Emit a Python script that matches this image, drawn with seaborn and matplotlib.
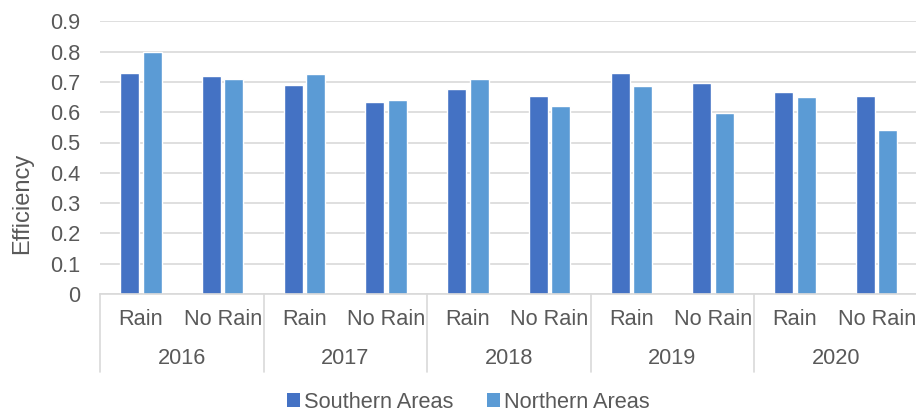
import matplotlib
matplotlib.use("Agg")
import matplotlib.pyplot as plt
import matplotlib.transforms as mtransforms
from matplotlib.patches import Patch
import seaborn as sns
import pandas as pd

# Data
years = ["2016", "2017", "2018", "2019", "2020"]
conditions = ["Rain", "No Rain"]
series_names = ["Southern Areas", "Northern Areas"]
southern = [0.73, 0.72, 0.69, 0.634, 0.677, 0.653, 0.729, 0.696, 0.667, 0.653]
northern = [0.80, 0.71, 0.726, 0.64, 0.71, 0.62, 0.687, 0.597, 0.65, 0.541]
y_ticks = [0, 0.1, 0.2, 0.3, 0.4, 0.5, 0.6, 0.7, 0.8, 0.9]
colors = ["#4472C4", "#5B9BD5"]

sns.set_style("white")
plt.rcParams["font.family"] = ["Liberation Sans", "DejaVu Sans"]
text_color = "#595959"
grid_color = "#D9D9D9"
fs = 15.7

categories = [f"{y}|{c}" for y in years for c in conditions]
df = pd.DataFrame({
    "category": categories * 2,
    "value": southern + northern,
    "series": [series_names[0]] * len(categories) + [series_names[1]] * len(categories),
})

fig = plt.figure(figsize=(9.16, 4.13), dpi=100)
ax = fig.add_axes([100 / 916, 119 / 413, 817.5 / 916, 272.7 / 413])

sns.barplot(data=df, x="category", y="value", hue="series", order=categories,
            hue_order=series_names, palette=colors, width=0.55, gap=0.15,
            saturation=1, ax=ax, legend=False)

ax.set_xlim(-0.5, len(categories) - 0.5)
ax.set_ylim(0, 0.9)
ax.set_yticks(y_ticks)
ax.set_yticklabels(["0" if v == 0 else f"{v:.1f}" for v in y_ticks])
ax.tick_params(axis="y", length=0, pad=14, labelsize=fs, labelcolor=text_color)
ax.yaxis.grid(True, color=grid_color, linewidth=1.2)
ax.set_axisbelow(True)
for side in ["top", "right", "left"]:
    ax.spines[side].set_visible(False)
ax.spines["bottom"].set_color(grid_color)
ax.spines["bottom"].set_linewidth(1.2)

ax.set_xticks([])
ax.set_xlabel("")
ax.set_ylabel("Efficiency", fontsize=17, color=text_color)
ax.yaxis.set_label_coords(-0.082, 0.334)

# Two-level category axis: condition labels, year labels and group dividers
trans = mtransforms.blended_transform_factory(ax.transData, ax.transAxes)
for i, cat in enumerate(categories):
    ax.text(i, -0.095, cat.split("|")[1], transform=trans, ha="center", va="center",
            fontsize=fs, color=text_color, clip_on=False)
for j, yr in enumerate(years):
    ax.text(2 * j + 0.5, -0.238, yr, transform=trans, ha="center", va="center",
            fontsize=fs, color=text_color, clip_on=False)
for j in range(len(years) + 1):
    ax.plot([2 * j - 0.5, 2 * j - 0.5], [0, -0.286], transform=trans,
            color=grid_color, linewidth=1.2, clip_on=False)

handles = [Patch(facecolor=c, edgecolor="none", label=n) for c, n in zip(colors, series_names)]
leg = fig.legend(handles=handles, loc="center", bbox_to_anchor=(0.511, 0.026), ncol=2,
                 frameon=False, fontsize=fs, handlelength=0.62, handleheight=0.62,
                 handletextpad=0.15, columnspacing=1.55, borderpad=0)
for t in leg.get_texts():
    t.set_color(text_color)

fig.savefig("out.png", dpi=100)
